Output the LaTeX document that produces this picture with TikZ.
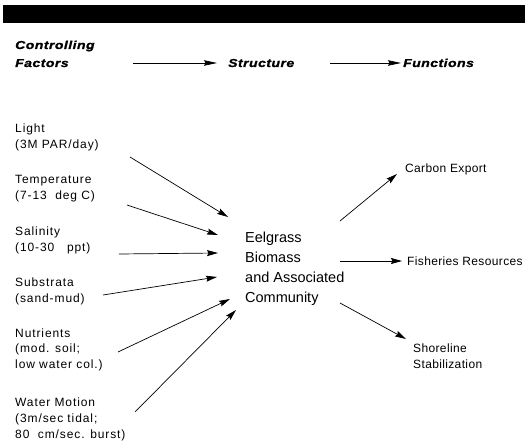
\documentclass[tikz,border=0pt]{standalone}
\usepackage{fontspec}
\setmainfont{Liberation Sans}
\newfontfamily\hdrfont[FakeStretch=1.22,LetterSpace=4,FakeBold=1.2]{Liberation Sans}
\newfontfamily\lblfont[LetterSpace=7.5]{Liberation Sans}
\newfontfamily\rlblfont[LetterSpace=3]{Liberation Sans}
\usetikzlibrary{arrows.meta}
\begin{document}
\begin{tikzpicture}[x=1pt,y=-1pt,
  lbl/.style={inner sep=0pt,anchor=base west,align=left,font=\lblfont\fontsize{12}{16}\selectfont},
  rlbl/.style={inner sep=0pt,anchor=base west,align=left,font=\rlblfont\fontsize{12}{17}\selectfont},
  ctr/.style={inner sep=0pt,anchor=base west,align=left,font=\fontsize{14.5}{20}\selectfont},
  hdr/.style={inner sep=0pt,anchor=base west,align=left,font=\hdrfont\fontsize{11.5}{18}\selectfont\bfseries\itshape},
  arr/.style={line width=0.7pt,-{Stealth[length=11pt,width=6pt,inset=1.5pt]}},
  harr/.style={line width=0.7pt,-{Stealth[length=13pt,width=5.5pt,inset=1.5pt]}}]
\useasboundingbox (0,0) rectangle (525,446);
\fill[black] (3,5) rectangle (525,23);
% header (base = last line baseline)
\node[hdr] (cf) at (15,67) {Controlling\\Factors};
\node[hdr] (st) at (228,67) {Structure};
\node[hdr] (fn) at (403,67) {Functions};
\coordinate (h1a) at (133,63); \coordinate (h1b) at (217,63);
\coordinate (h2a) at (330,63); \coordinate (h2b) at (401,63);
\draw[harr] (h1a) -- (h1b);
\draw[harr] (h2a) -- (h2b);
% left labels (base = last line baseline)
\node[lbl] (light) at (15,149) {Light\\(3M PAR/day)};
\node[lbl] (temp) at (15,200) {Temperature\\(7-13\ \ deg C)};
\node[lbl] (sal) at (15,252) {Salinity\\(10-30\ \ \ ppt)};
\node[lbl] (sub) at (15,303) {Substrata\\(sand-mud)};
\node[lbl] (nut) at (15,369) {Nutrients\\(mod. soil;\\low water col.)};
\node[lbl] (wm) at (15,438) {Water Motion\\(3m/sec tidal;\\80\ \ cm/sec. burst)};
% center
\node[ctr] (eel) at (245,303) {Eelgrass\\Biomass\\and Associated\\Community};
% right
\node[rlbl] (ce) at (405,173) {Carbon Export};
\node[rlbl] (fr) at (407,266) {Fisheries Resources};
\node[rlbl] (ss) at (413,369) {Shoreline\\Stabilization};
% input arrows
\coordinate (a1) at (130,157); \coordinate (b1) at (228,217);
\coordinate (a2) at (127,205); \coordinate (b2) at (218,235);
\coordinate (a3) at (119,254); \coordinate (b3) at (218,253);
\coordinate (a4) at (103,295); \coordinate (b4) at (217,277);
\coordinate (a5) at (118,352); \coordinate (b5) at (230,299);
\coordinate (a6) at (135,412); \coordinate (b6) at (236,310);
\foreach \i in {1,...,6} \draw[arr] (a\i) -- (b\i);
% output arrows
\coordinate (c1) at (340,221); \coordinate (d1) at (397,174);
\coordinate (c2) at (340,261); \coordinate (d2) at (402,261);
\coordinate (c3) at (340,303); \coordinate (d3) at (406,339);
\foreach \i in {1,2,3} \draw[arr] (c\i) -- (d\i);
\end{tikzpicture}
\end{document}
